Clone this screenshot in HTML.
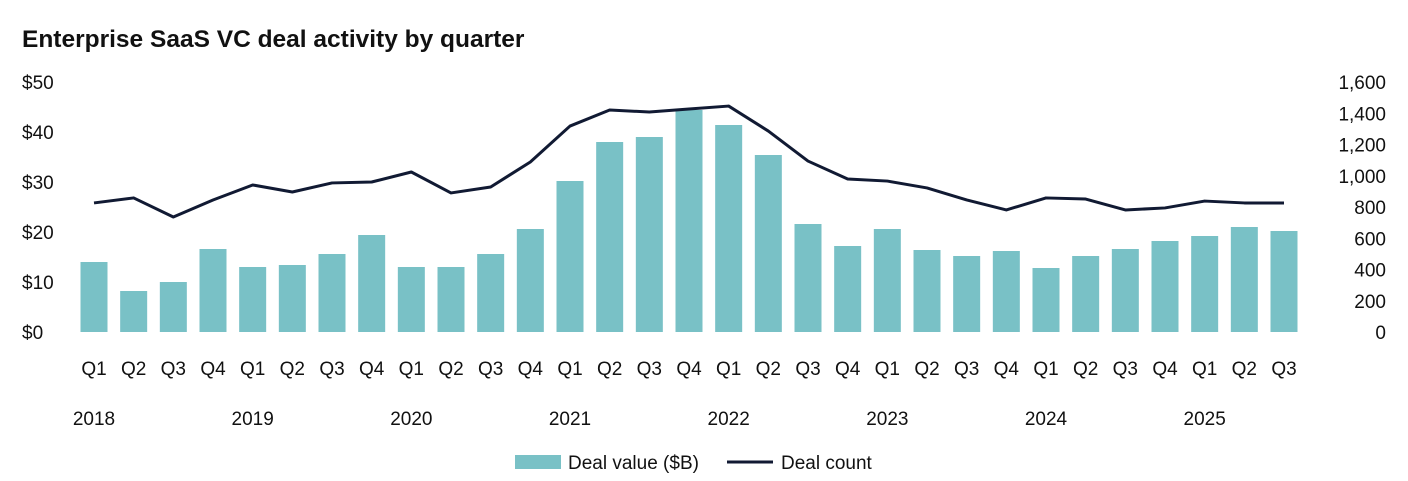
<!DOCTYPE html>
<html><head><meta charset="utf-8"><style>
body{margin:0;background:#fff;}
svg{display:block;font-family:"Liberation Sans",sans-serif;}
</style></head><body>
<svg id="chart" width="1408" height="481">
<text x="22" y="47" font-size="24.5" font-weight="bold" fill="#111">Enterprise SaaS VC deal activity by quarter</text>
<g id="axes"></g><g id="bars"></g><g id="line"></g>
<g>
<rect x="515" y="455" width="46" height="14" fill="#79c1c6"/>
<text x="568" y="469" font-size="19" fill="#111">Deal value ($B)</text>
<line x1="727" y1="462" x2="773" y2="462" stroke="#111a33" stroke-width="3"/>
<text x="781" y="469" font-size="19" fill="#111">Deal count</text>
</g>
</svg>
<script>
const quarters=["Q1","Q2","Q3","Q4","Q1","Q2","Q3","Q4","Q1","Q2","Q3","Q4","Q1","Q2","Q3","Q4","Q1","Q2","Q3","Q4","Q1","Q2","Q3","Q4","Q1","Q2","Q3","Q4","Q1","Q2","Q3"];
const years=["2018","2019","2020","2021","2022","2023","2024","2025"];
const dealValue=[14,8.2,10,16.6,13,13.4,15.6,19.4,13,13,15.6,20.6,30.2,38,39,44.4,41.4,35.4,21.6,17.2,20.6,16.4,15.2,16.2,12.8,15.2,16.6,18.2,19.2,21,20.2];
const dealCount=[826,858,736,845,941,896,954,960,1024,890,928,1088,1318,1421,1408,1427,1446,1286,1094,979,966,922,845,781,858,851,781,794,838,826,826];
const leftTicks=[0,10,20,30,40,50];
const rightTicks=[0,200,400,600,800,1000,1200,1400,1600];
const NS="http://www.w3.org/2000/svg";
const y0=332,yTop=82;
const yL=v=>y0-(v/50)*(y0-yTop);
const yR=v=>y0-(v/1600)*(y0-yTop);
const x=i=>94+i*(1284-94)/30;
function mk(tag,attrs,parent,txt){const e=document.createElementNS(NS,tag);for(const k in attrs)e.setAttribute(k,attrs[k]);if(txt!=null)e.textContent=txt;parent.appendChild(e);return e;}
const axes=document.getElementById('axes'),bars=document.getElementById('bars'),line=document.getElementById('line');
leftTicks.forEach(t=>{const e=mk('text',{x:22,y:yL(t)+7,'font-size':19,fill:'#111'},axes,'$'+t);

});
rightTicks.forEach(t=>{const e=mk('text',{x:1386,y:yR(t)+7,'font-size':19,fill:'#111','text-anchor':'end'},axes,t.toLocaleString('en-US'));

});
quarters.forEach((q,i)=>{const e=mk('text',{x:x(i),y:375,'font-size':19,fill:'#111','text-anchor':'middle'},axes,q);

});
years.forEach((yr,j)=>{const e=mk('text',{x:x(j*4),y:425,'font-size':19,fill:'#111','text-anchor':'middle'},axes,yr);

});
dealValue.forEach((v,i)=>{const e=mk('rect',{x:x(i)-13.5,y:yL(v),width:27,height:y0-yL(v),fill:'#79c1c6'},bars);

});
const p=mk('path',{d:dealCount.map((v,i)=>(i?'L':'M')+x(i)+','+yR(v)).join(''),fill:'none',stroke:'#111a33','stroke-width':3,'stroke-linejoin':'round'},line);


</script>
</body></html>
